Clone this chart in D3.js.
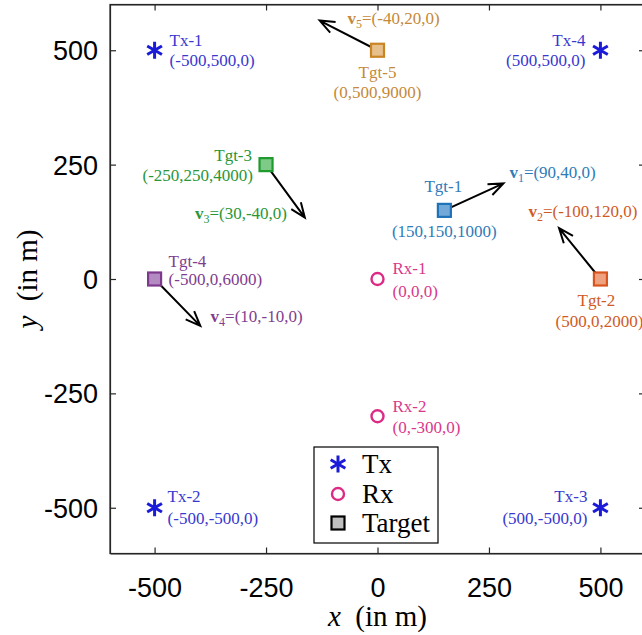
<!DOCTYPE html>
<html>
<head>
<meta charset="utf-8">
<script src="https://cdn.jsdelivr.net/npm/d3@7"></script>
<style>
  html, body { margin: 0; padding: 0; background: #fff; }
  svg { display: block; }
</style>
</head>
<body>
<svg id="chart" width="642" height="635"></svg>
<script>
// Transmitters
const txNames = ["Tx-1", "Tx-2", "Tx-3", "Tx-4"];
const txX = [-500, -500, 500, 500];
const txY = [500, -500, -500, 500];
const txZ = [0, 0, 0, 0];

// Receivers
const rxNames = ["Rx-1", "Rx-2"];
const rxX = [0, 0];
const rxY = [0, -300];
const rxZ = [0, 0];

// Targets and their velocities
const tgtNames = ["Tgt-1", "Tgt-2", "Tgt-3", "Tgt-4", "Tgt-5"];
const tgtX = [150, 500, -250, -500, 0];
const tgtY = [150, 0, 250, 0, 500];
const tgtZ = [1000, 2000, 4000, 6000, 9000];
const velX = [90, -100, 30, 10, -40];
const velY = [40, 120, -40, -10, 20];
const velZ = [0, 0, 0, 0, 0];

// Axis ticks
const xTicks = [-500, -250, 0, 250, 500];
const yTicks = [-500, -250, 0, 250, 500];
const legendLabels = ["Tx", "Rx", "Target"];

// ---- styling / layout ----
const txColor = "#1a1ad8", txText = "#3838cf";
const rxColor = "#dc2b84", rxText = "#d9398a";
const tgtStroke = ["#1f72b8", "#d8561d", "#1e9a2e", "#7d3a8c", "#c98424"];
const tgtFill   = ["#72a9d8", "#eea27f", "#7dcb86", "#b48ac2", "#e8c08c"];
const tgtText   = ["#2f7bb8", "#cf5a25", "#2a9638", "#7f3d8e", "#c4893a"];
const arrowLen = 145;          // drawn length of every velocity arrow, in m
const serif = "'Liberation Serif', 'Times New Roman', serif";
const sans = "'Liberation Sans', Arial, Helvetica, sans-serif";

const svg = d3.select("#chart");
const x = d3.scaleLinear().domain([-600, 600]).range([110, 645]);
const y = d3.scaleLinear().domain([-600, 600]).range([553.5, 4.5]);
const [x0, x1] = x.range(), [y0, y1] = y.range();
const axisColor = "#262626";
const plain = d => String(d);   // hyphen-minus, as in the tick labels

// Frame with inward ticks on all sides
svg.append("rect").attr("x", x0).attr("y", y1).attr("width", x1 - x0).attr("height", y0 - y1)
  .attr("fill", "none").attr("stroke", axisColor).attr("stroke-width", 1.2);

const tickLen = 6;
const axB = svg.append("g").attr("transform", `translate(0,${y0})`)
  .call(d3.axisBottom(x).tickValues(xTicks).tickSizeInner(-tickLen).tickSizeOuter(0).tickPadding(24).tickFormat(plain));
const axT = svg.append("g").attr("transform", `translate(0,${y1})`)
  .call(d3.axisTop(x).tickValues(xTicks).tickSizeInner(-tickLen).tickSizeOuter(0).tickFormat(""));
const axL = svg.append("g").attr("transform", `translate(${x0},0)`)
  .call(d3.axisLeft(y).tickValues(yTicks).tickSizeInner(-tickLen).tickSizeOuter(0).tickPadding(12).tickFormat(plain));
const axR = svg.append("g").attr("transform", `translate(${x1},0)`)
  .call(d3.axisRight(y).tickValues(yTicks).tickSizeInner(-tickLen).tickSizeOuter(0).tickFormat(""));
[axB, axT, axL, axR].forEach(a => {
  a.select(".domain").attr("stroke", axisColor).attr("stroke-width", 1.2);
  a.selectAll(".tick line").attr("stroke", axisColor).attr("stroke-width", 1.2);
  a.selectAll(".tick text").attr("fill", "#000").style("font-family", sans).style("font-size", "27px");
});
axB.selectAll(".tick text").attr("dy", "0.71em");
axL.selectAll(".tick text").attr("dy", "0.35em");

// Axis titles: italic variable plus "(in m)"
function axisTitle(g, v) {
  const t = g.append("text").attr("text-anchor", "middle")
    .style("font-family", serif).style("font-size", "29px").attr("fill", "#000");
  t.append("tspan").style("font-style", "italic").text(v);
  t.append("tspan").text("\u2002(in m)");
}
axisTitle(svg.append("g").attr("transform", `translate(${x(0)},626)`), "x");
axisTitle(svg.append("g").attr("transform", `translate(37,${y(0)}) rotate(-90)`), "y");

// Six-armed asterisk marker
function star(g, cx, cy, r, color, sw) {
  [90, 30, 150].forEach(a => {
    const rad = a * Math.PI / 180;
    g.append("line")
      .attr("x1", cx - r * Math.cos(rad)).attr("y1", cy - r * Math.sin(rad))
      .attr("x2", cx + r * Math.cos(rad)).attr("y2", cy + r * Math.sin(rad))
      .attr("stroke", color).attr("stroke-width", sw).attr("stroke-linecap", "butt");
  });
}

function label(lines, px, py, anchor, color) {
  const t = svg.append("text").attr("text-anchor", anchor)
    .style("font-family", serif).style("font-size", "17px").attr("fill", color);
  lines.forEach(l => {
    t.append("tspan").attr("x", px + l.dx).attr("y", py + l.dy).text(l.s);
  });
}

const coord = (a, b, c) => `(${a},${b},${c})`;

// Velocity arrows (unit direction, fixed drawn length)
const arrows = svg.append("g");
tgtNames.forEach((n, i) => {
  const m = Math.hypot(velX[i], velY[i]);
  const sx = x(tgtX[i]), sy = y(tgtY[i]);
  const ex = x(tgtX[i] + velX[i] / m * arrowLen), ey = y(tgtY[i] + velY[i] / m * arrowLen);
  const ang = Math.atan2(ey - sy, ex - sx);
  const hl = 16, ha = 0.38;
  const p = d3.path();
  p.moveTo(sx, sy); p.lineTo(ex, ey);
  p.moveTo(ex - hl * Math.cos(ang - ha), ey - hl * Math.sin(ang - ha));
  p.lineTo(ex, ey);
  p.lineTo(ex - hl * Math.cos(ang + ha), ey - hl * Math.sin(ang + ha));
  arrows.append("path").attr("d", p.toString()).attr("fill", "none")
    .attr("stroke", "#000").attr("stroke-width", 2).attr("stroke-linejoin", "miter");
});

// Targets
const sq = 13;
tgtNames.forEach((n, i) => {
  svg.append("rect").attr("x", x(tgtX[i]) - sq / 2).attr("y", y(tgtY[i]) - sq / 2)
    .attr("width", sq).attr("height", sq)
    .attr("fill", tgtFill[i]).attr("stroke", tgtStroke[i]).attr("stroke-width", 2.2);
});

// Transmitters
txNames.forEach((n, i) => star(svg.append("g"), x(txX[i]), y(txY[i]), 8.5, txColor, 3));

// Receivers
rxNames.forEach((n, i) => {
  svg.append("circle").attr("cx", x(rxX[i])).attr("cy", y(rxY[i])).attr("r", 6)
    .attr("fill", "none").attr("stroke", rxColor).attr("stroke-width", 2.4);
});

// Text placement for each annotated object: [anchor, line1 dx, dy, line2 dx, dy]
const txLab = [["start", 15, -4, 15, 16], ["start", 13, -6, 13, 16], ["end", -13, -6, -13, 16], ["end", -15, -4, -15, 16]];
txNames.forEach((n, i) => {
  const L = txLab[i];
  label([{ s: n, dx: L[1], dy: L[2] }, { s: coord(txX[i], txY[i], txZ[i]), dx: L[3], dy: L[4] }],
    x(txX[i]), y(txY[i]), L[0], txText);
});

const rxLab = [["start", 15, -5, 15, 18], ["start", 15, -4, 15, 17]];
rxNames.forEach((n, i) => {
  const L = rxLab[i];
  label([{ s: n, dx: L[1], dy: L[2] }, { s: coord(rxX[i], rxY[i], rxZ[i]), dx: L[3], dy: L[4] }],
    x(rxX[i]), y(rxY[i]), L[0], rxText);
});

const tgtLab = [
  ["middle", -1, -18, 0, 27],
  ["middle", -4, 27, -1, 48],
  ["end", -14, -4, -13, 16],
  ["start", 14, -12, 14, 6],
  ["middle", 0, 28, 0, 48]
];
tgtNames.forEach((n, i) => {
  const L = tgtLab[i];
  label([{ s: n, dx: L[1], dy: L[2] }, { s: coord(tgtX[i], tgtY[i], tgtZ[i]), dx: L[3], dy: L[4] }],
    x(tgtX[i]), y(tgtY[i]), L[0], tgtText[i]);
});

// Velocity labels: bold v with subscript index
const velLab = [["start", 65, -32], ["start", -72, -62], ["end", 21, 54], ["start", 56, 43], ["start", -30, -26]];
tgtNames.forEach((n, i) => {
  const L = velLab[i];
  const t = svg.append("text").attr("text-anchor", L[0])
    .attr("x", x(tgtX[i]) + L[1]).attr("y", y(tgtY[i]) + L[2])
    .style("font-family", serif).style("font-size", "17px").attr("fill", tgtText[i]);
  t.append("tspan").style("font-weight", "bold").text("v");
  t.append("tspan").attr("dy", 4).style("font-size", "12px").text(i + 1);
  t.append("tspan").attr("dy", -4).text("=" + coord(velX[i], velY[i], velZ[i]));
});

// Legend
const lg = svg.append("g").attr("transform", "translate(314,447)");
lg.append("rect").attr("width", 124).attr("height", 96).attr("fill", "#fff")
  .attr("stroke", "#000").attr("stroke-width", 1.2);
const rowY = [17, 47, 76];
star(lg.append("g"), 24, rowY[0], 8.5, txColor, 3);
lg.append("circle").attr("cx", 24).attr("cy", rowY[1]).attr("r", 6)
  .attr("fill", "none").attr("stroke", rxColor).attr("stroke-width", 2.4);
lg.append("rect").attr("x", 24 - 6.5).attr("y", rowY[2] - 6.5).attr("width", 13).attr("height", 13)
  .attr("fill", "#bfbfbf").attr("stroke", "#000").attr("stroke-width", 2.2);
legendLabels.forEach((s, i) => {
  lg.append("text").attr("x", 48).attr("y", rowY[i] + 9)
    .style("font-family", serif).style("font-size", "27px").attr("fill", "#000").text(s);
});
</script>
</body>
</html>
